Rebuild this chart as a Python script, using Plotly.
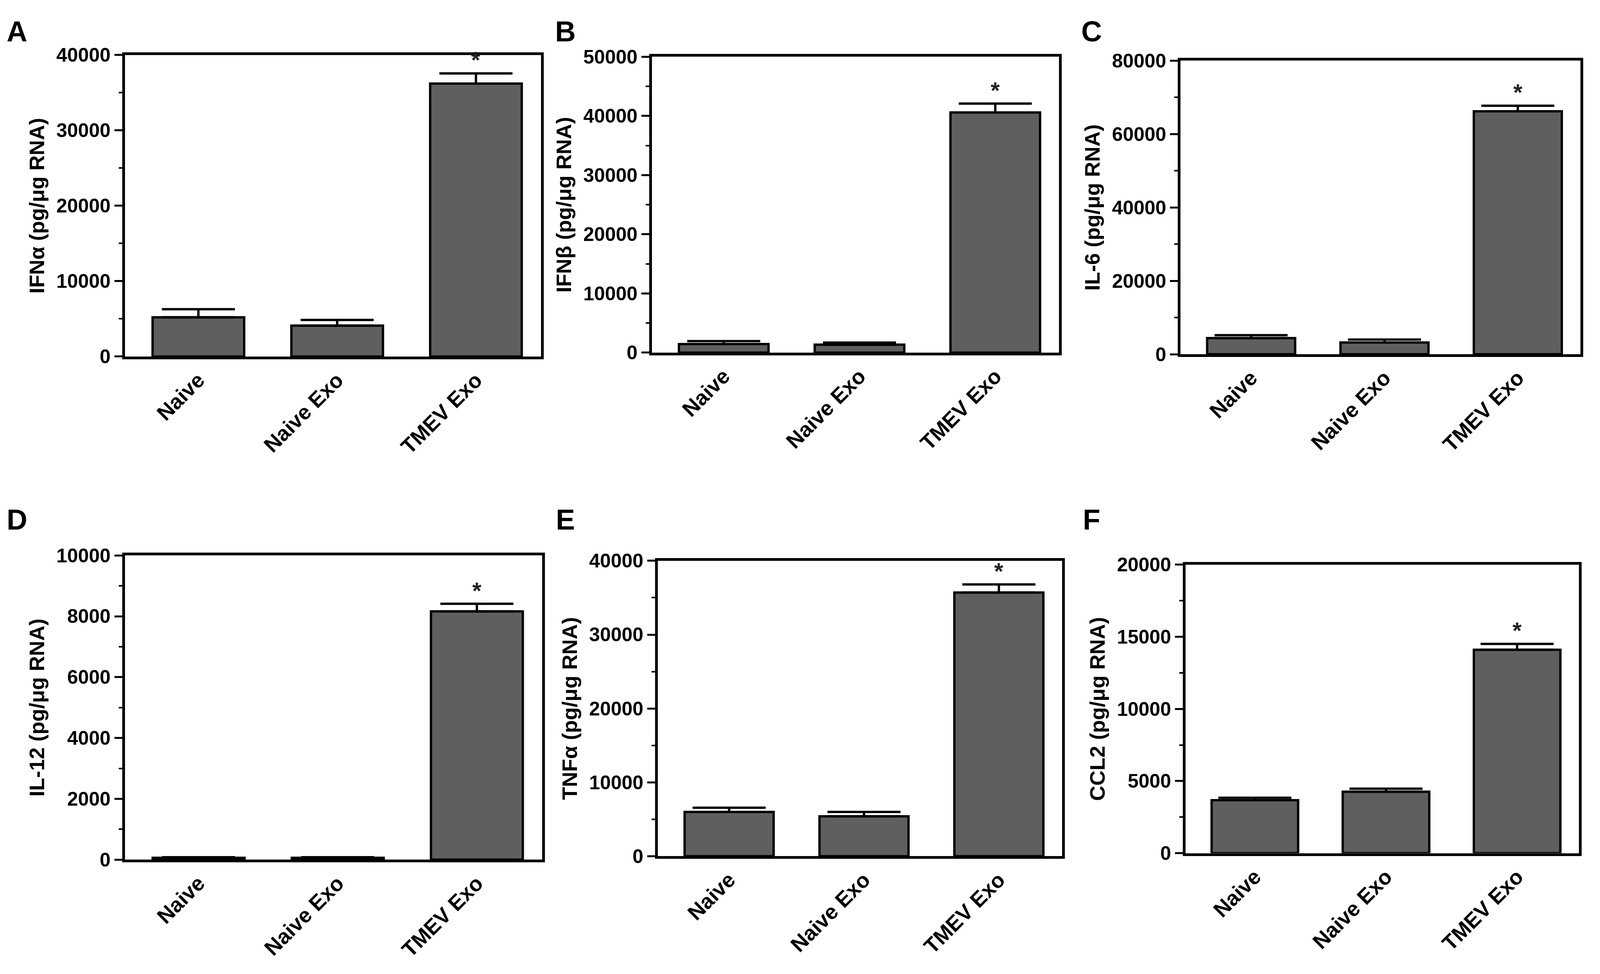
import plotly.graph_objects as go

# categories and values (mean, upper error)
categories = ["Naive", "Naive Exo", "TMEV Exo"]

ifna_mean = [5200, 4100, 36200]
ifna_err = [1080, 750, 1350]
ifnb_mean = [1450, 1350, 40600]
ifnb_err = [500, 350, 1500]
il6_mean = [4400, 3200, 66200]
il6_err = [800, 800, 1500]
il12_mean = [60, 60, 8160]
il12_err = [20, 20, 250]
tnfa_mean = [6000, 5400, 35700]
tnfa_err = [560, 600, 1100]
ccl2_mean = [3670, 4260, 14100]
ccl2_err = [170, 210, 400]

y_titles = ["IFNα (pg/μg RNA)", "IFNβ (pg/μg RNA)", "IL-6 (pg/μg RNA)",
            "IL-12 (pg/μg RNA)", "TNFα (pg/μg RNA)", "CCL2 (pg/μg RNA)"]
y_max = [40000, 50000, 80000, 10000, 40000, 20000]
y_step = [10000, 10000, 20000, 2000, 10000, 5000]
panel_letters = ["A", "B", "C", "D", "E", "F"]

means = [ifna_mean, ifnb_mean, il6_mean, il12_mean, tnfa_mean, ccl2_mean]
errs = [ifna_err, ifnb_err, il6_err, il12_err, tnfa_err, ccl2_err]

# panel positions (paper fractions)
x_domains = [(0.0767, 0.3391), (0.4088, 0.6655), (0.7420, 0.9941),
             (0.0767, 0.3398), (0.4125, 0.6675), (0.7451, 0.9930)]
y_domains = [(0.6403, 0.9571), (0.6444, 0.9551), (0.6427, 0.9511),
             (0.1119, 0.4314), (0.1155, 0.4258), (0.1187, 0.4218)]
letter_pos = [(0.0088, 0.9816), (0.3545, 0.9816), (0.6861, 0.9816),
              (0.0088, 0.4687), (0.3545, 0.4687), (0.6861, 0.4687)]

# visible page area is narrower than the window, so size the figure to it
W, H = 4062, 2494
KH = W / 4562          # horizontal scale
KT = 0.94              # text scale

FONT = "Liberation Sans, Arial, sans-serif"
BAR_COLOR = "#5f5f5f"

fig = go.Figure()
annotations = []

for i in range(6):
    n = "" if i == 0 else str(i + 1)
    fig.add_trace(go.Bar(
        x=categories,
        y=means[i],
        xaxis="x" + n,
        yaxis="y" + n,
        width=0.66,
        marker=dict(color=BAR_COLOR, line=dict(color="black", width=6)),
        error_y=dict(type="data", symmetric=False, array=errs[i],
                     arrayminus=[0, 0, 0], color="black",
                     thickness=6, width=105 * KH),
        showlegend=False,
    ))

    fig.update_layout({
        "xaxis" + n: dict(
            domain=list(x_domains[i]), anchor="y" + n,
            range=[-0.53, 2.47],
            showline=True, linecolor="black", linewidth=7, mirror=True,
            ticks="", tickangle=-45,
            tickfont=dict(family=FONT, size=58 * KT, color="black", weight="bold"),
            showgrid=False, zeroline=False,
        ),
        "yaxis" + n: dict(
            domain=list(y_domains[i]), anchor="x" + n,
            range=[0, y_max[i]], dtick=y_step[i], tick0=0, tickformat="d",
            showline=True, linecolor="black", linewidth=7, mirror=True,
            ticks="outside", ticklen=22 * KH, tickwidth=5, tickcolor="black",
            minor=dict(dtick=y_step[i] / 2, ticks="outside", ticklen=10 * KH,
                       tickwidth=4, tickcolor="black"),
            tickfont=dict(family=FONT, size=56 * KH, color="black", weight="bold"),
            title=dict(text=y_titles[i], standoff=18 * KH,
                       font=dict(family=FONT, size=54, color="black", weight="bold")),
            showgrid=False, zeroline=False,
        ),
    })

    # significance asterisk above TMEV Exo
    annotations.append(dict(
        x=categories[2], y=means[i][2] + errs[i][2],
        xref="x" + n, yref="y" + n,
        text="*", showarrow=False, yanchor="middle", yshift=34,
        font=dict(family=FONT, size=60, color="#222222", weight="bold"),
    ))

    annotations.append(dict(
        x=letter_pos[i][0], y=letter_pos[i][1], xref="paper", yref="paper",
        text=panel_letters[i], showarrow=False, xanchor="center", yanchor="middle",
        font=dict(family=FONT, size=78 * KT, color="black", weight="bold"),
    ))

fig.update_layout(
    width=W, height=H,
    margin=dict(l=0, r=0, t=0, b=0),
    paper_bgcolor="white", plot_bgcolor="white",
    annotations=annotations,
)

fig.write_html("out.html")
